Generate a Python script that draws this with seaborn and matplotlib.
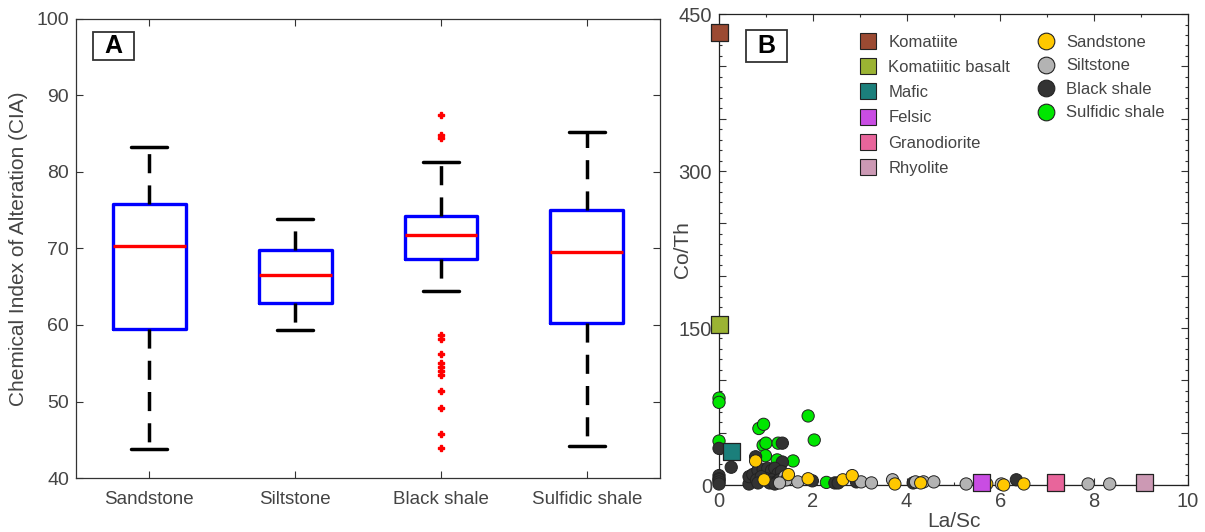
import numpy as np
import pandas as pd
import matplotlib
matplotlib.use("Agg")
import matplotlib.pyplot as plt
import matplotlib.ticker as mticker
from matplotlib.lines import Line2D
from matplotlib.patches import Rectangle
import seaborn as sns

# ---------------- Panel A data (box statistics, CIA) ----------------
box_categories = ["Sandstone", "Siltstone", "Black shale", "Sulfidic shale"]
whisker_low = [43.8, 59.4, 64.5, 44.2]
q1_values = [59.5, 62.9, 68.6, 60.3]
median_values = [70.3, 66.6, 71.8, 69.6]
q3_values = [75.8, 69.8, 74.3, 75.0]
whisker_high = [83.3, 73.8, 81.3, 85.2]
outliers_sandstone = []
outliers_siltstone = []
outliers_black_shale = [87.4, 84.8, 84.5, 58.7, 58.2, 56.2, 55.0, 54.5, 54.0,
                        53.5, 51.4, 49.1, 45.7, 43.9]
outliers_sulfidic = []

# ---------------- Panel B data (La/Sc vs Co/Th) ----------------
ref_names = ["Komatiite", "Komatiitic basalt", "Mafic", "Felsic", "Granodiorite", "Rhyolite"]
ref_la_sc = [0.0, 0.0, 0.27, 5.59, 7.17, 9.08]
ref_co_th = [432.0, 153.0, 32.0, 2.0, 2.0, 2.0]
ref_colors = ["#9b4a32", "#9bb333", "#1b7f7b", "#c94de3", "#e8659b", "#cc99b4"]

sulfidic_la_sc = [0.0, 0.0, 0.0, 0.85, 0.95, 1.9, 2.03, 0.94, 1.0, 0.99, 1.26, 1.24, 1.58, 2.29, 1.02]
sulfidic_co_th = [83, 79, 42, 54, 58, 66, 43, 38, 40, 28, 40, 24, 23, 2.5, 14]

black_la_sc = [0.0, 0.26, 0.0, 0.0, 0.0, 0.0, 0.0, 1.35, 1.35, 0.78, 0.64, 0.64, 0.72, 0.83,
               0.94, 1.04, 1.12, 1.19, 1.26, 1.33, 1.01, 1.12, 1.22, 1.29, 1.4, 0.8, 0.9,
               1.44, 0.83, 1.08, 1.19, 1.99, 2.47, 2.54, 2.93, 4.14, 6.34]
black_co_th = [35, 17, 9, 6, 5, 3, 1, 40, 22, 27, 1, 8, 10, 14,
               15, 16, 14, 16, 11, 13, 6, 5, 3, 5, 5, 5, 8,
               8, 2, 2, 1, 4, 2, 2, 3, 2, 5]

silt_la_sc = [1.4, 1.44, 1.68, 1.29, 3.03, 3.25, 3.7, 4.19, 4.36, 4.58, 5.27, 6.02, 7.87, 8.33]
silt_co_th = [8, 5, 3, 2, 3, 2, 5, 3, 3, 3, 1, 1, 1, 1]

sand_la_sc = [0.78, 0.96, 1.48, 1.9, 2.64, 2.84, 3.75, 4.3, 5.71, 6.07, 6.5]
sand_co_th = [23, 5, 10, 6, 5, 9, 1, 2, 1, 0, 1]

sample_names = ["Sandstone", "Siltstone", "Black shale", "Sulfidic shale"]
sample_colors = ["#ffc800", "#b3b3b3", "#333333", "#00e600"]

# ---------------- Style ----------------
sns.set_theme(style="ticks")
plt.rcParams["font.family"] = ["Liberation Sans", "DejaVu Sans"]
text_col = "#444444"
plt.rcParams["text.color"] = text_col
plt.rcParams["axes.labelcolor"] = text_col
plt.rcParams["xtick.color"] = "#333333"
plt.rcParams["ytick.color"] = "#333333"
plt.rcParams["xtick.labelcolor"] = text_col
plt.rcParams["ytick.labelcolor"] = text_col

fig = plt.figure(figsize=(12.05, 5.32), dpi=100)
axA = fig.add_axes([0.0631, 0.1015, 0.4846, 0.8628])
axB = fig.add_axes([0.5967, 0.0883, 0.3892, 0.8853])

# ---------------- Panel A ----------------
all_outliers = [outliers_sandstone, outliers_siltstone, outliers_black_shale, outliers_sulfidic]
stats = []
for i, name in enumerate(box_categories):
    stats.append(dict(label=name, whislo=whisker_low[i], q1=q1_values[i], med=median_values[i],
                      q3=q3_values[i], whishi=whisker_high[i], fliers=all_outliers[i]))
positions = np.arange(1, len(box_categories) + 1)
axA.bxp(stats, positions=positions, widths=0.5, capwidths=0.25, showfliers=True,
        boxprops=dict(color="#0000ff", linewidth=2.4),
        medianprops=dict(color="#ff0000", linewidth=2.4),
        whiskerprops=dict(color="black", linewidth=2.5, linestyle=(0, (5.5, 3.5))),
        capprops=dict(color="black", linewidth=2.5),
        flierprops=dict(marker="P", markerfacecolor="#ff0000", markeredgecolor="#ff0000",
                        markersize=5, linestyle="none"))
axA.set_xlim(0.5, 4.5)
axA.set_ylim(40, 100)
axA.set_yticks(np.arange(40, 101, 10))
axA.set_xticks(positions)
axA.set_xticklabels(box_categories, fontsize=13.5)
axA.tick_params(axis="y", labelsize=14)
axA.tick_params(axis="x", pad=9)
axA.tick_params(direction="in", top=True, right=True, length=5, width=0.8)
axA.tick_params(axis="y", pad=5)
axA.set_ylabel("Chemical Index of Alteration (CIA)", fontsize=15, labelpad=6)
for s in axA.spines.values():
    s.set_color("#333333")
    s.set_linewidth(0.9)
axA.add_patch(Rectangle((0.029, 0.911), 0.070, 0.061, transform=axA.transAxes,
                        facecolor="white", edgecolor="#333333", linewidth=1.3, zorder=5))
axA.text(0.064, 0.9415, "A", transform=axA.transAxes, fontsize=18, fontweight="bold",
         ha="center", va="center", color="black", zorder=6)

# ---------------- Panel B ----------------
axB.axhline(0, color="#333333", linewidth=0.8, zorder=1)
groups = [
    ("Sulfidic shale", sulfidic_la_sc, sulfidic_co_th),
    ("Black shale", black_la_sc, black_co_th),
    ("Siltstone", silt_la_sc, silt_co_th),
    ("Sandstone", sand_la_sc, sand_co_th),
]
color_map = dict(zip(sample_names, sample_colors))
for name, xs, ys in groups:
    df = pd.DataFrame({"La/Sc": xs, "Co/Th": ys, "type": name})
    sns.scatterplot(data=df, x="La/Sc", y="Co/Th", hue="type", palette={name: color_map[name]},
                    s=78, edgecolor="#222222", linewidth=0.7, ax=axB, legend=False, zorder=3,
                    clip_on=False)
ref_df = pd.DataFrame({"La/Sc": ref_la_sc, "Co/Th": ref_co_th, "type": ref_names})
sns.scatterplot(data=ref_df, x="La/Sc", y="Co/Th", hue="type",
                palette=dict(zip(ref_names, ref_colors)), marker="s", s=150,
                edgecolor="#222222", linewidth=0.9, ax=axB, legend=False, zorder=4, clip_on=False)

axB.set_xlim(0, 10)
axB.set_ylim(0, 450)
axB.xaxis.set_major_locator(mticker.MultipleLocator(2))
axB.xaxis.set_minor_locator(mticker.MultipleLocator(1))
axB.yaxis.set_major_locator(mticker.MultipleLocator(50))
axB.yaxis.set_minor_locator(mticker.MultipleLocator(10))
axB.yaxis.set_major_formatter(mticker.FuncFormatter(lambda v, p: f"{int(v)}" if int(round(v)) % 150 == 0 else ""))
axB.tick_params(which="both", direction="in", top=True, right=True, width=0.8)
axB.tick_params(which="major", length=5, labelsize=14.5, pad=5)
axB.tick_params(which="minor", length=2.5)
axB.set_xlabel("La/Sc", fontsize=15, labelpad=1)
axB.set_ylabel("Co/Th", fontsize=15)
axB.yaxis.set_label_coords(-0.058, 0.5)
for s in axB.spines.values():
    s.set_color("#222222")
    s.set_linewidth(0.9)
axB.add_patch(Rectangle((0.0576, 0.898), 0.0874, 0.068, transform=axB.transAxes,
                        facecolor="white", edgecolor="#333333", linewidth=1.3, zorder=5))
axB.text(0.1013, 0.932, "B", transform=axB.transAxes, fontsize=18, fontweight="bold",
         ha="center", va="center", color="black", zorder=6)

ref_handles = [Line2D([], [], marker="s", linestyle="none", markersize=11.5, markerfacecolor=c,
                      markeredgecolor="#222222", markeredgewidth=0.8) for c in ref_colors]
leg1 = axB.legend(ref_handles, ref_names, loc="upper left", bbox_to_anchor=(0.286, 0.970),
                  frameon=False, fontsize=12, handletextpad=0.7, labelspacing=0.61,
                  borderaxespad=0, handlelength=1.0)
axB.add_artist(leg1)
samp_handles = [Line2D([], [], marker="o", linestyle="none", markersize=12, markerfacecolor=c,
                       markeredgecolor="#222222", markeredgewidth=0.8) for c in sample_colors]
axB.legend(samp_handles, sample_names, loc="upper left", bbox_to_anchor=(0.665, 0.970),
           frameon=False, fontsize=12, handletextpad=0.7, labelspacing=0.51,
           borderaxespad=0, handlelength=1.0)

fig.savefig("out.png", dpi=100)
